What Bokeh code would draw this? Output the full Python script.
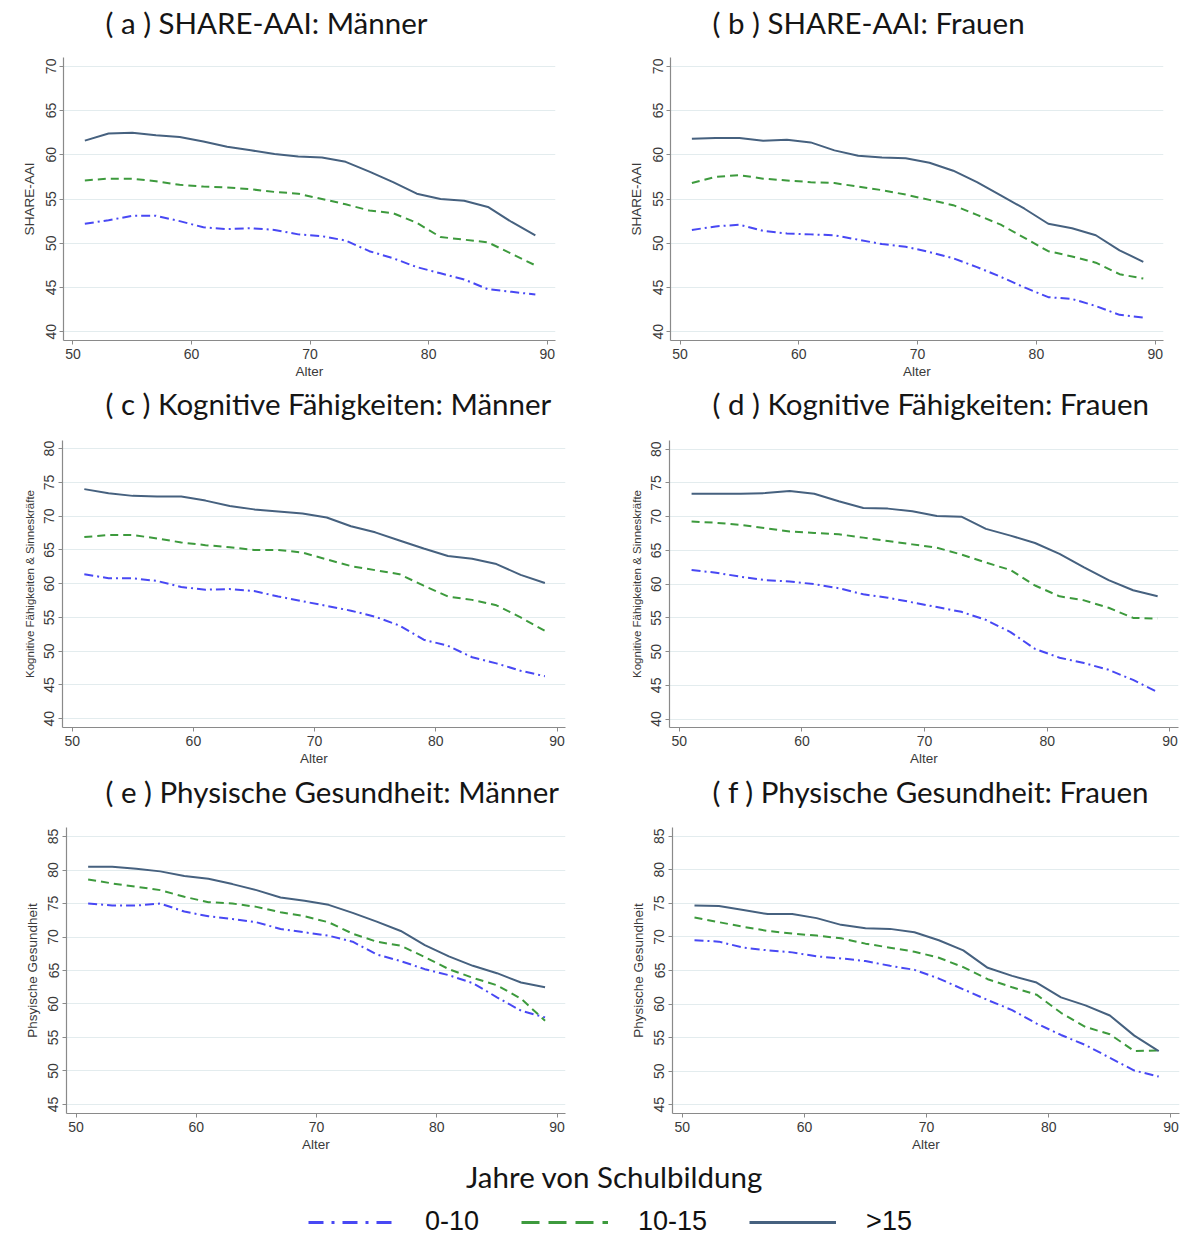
from bokeh.plotting import figure
from bokeh.layouts import column, row
from bokeh.models import Range1d, FixedTicker, Label, Legend, LegendItem
from bokeh.embed import file_html
from bokeh.resources import INLINE

# ---------------- data ----------------
ages = [51, 53, 55, 57, 59, 61, 63, 65, 67, 69, 71, 73, 75, 77, 79, 81, 83, 85, 87, 89]
series_names = ["0-10", "10-15", ">15"]
x_ticks = [50, 60, 70, 80, 90]

panel_titles = ["( a ) SHARE-AAI: Männer", "( b ) SHARE-AAI: Frauen",
                "( c ) Kognitive Fähigkeiten: Männer", "( d ) Kognitive Fähigkeiten: Frauen",
                "( e ) Physische Gesundheit: Männer", "( f ) Physische Gesundheit: Frauen"]
y_labels = ["SHARE-AAI", "SHARE-AAI",
            "Kognitive Fähigkeiten & Sinneskräfte", "Kognitive Fähigkeiten & Sinneskräfte",
            "Phsyische Gesundheit", "Physische Gesundheit"]
legend_title = "Jahre von Schulbildung"

# (a) SHARE-AAI: Maenner
a_lo = [52.2, 52.6, 53.1, 53.1, 52.5, 51.8, 51.6, 51.7, 51.5, 51.0, 50.8, 50.3, 49.1, 48.3, 47.3, 46.6, 45.9, 44.8, 44.5, 44.2]
a_mid = [57.1, 57.3, 57.3, 57.0, 56.6, 56.4, 56.3, 56.1, 55.8, 55.6, 55.0, 54.4, 53.7, 53.4, 52.3, 50.7, 50.4, 50.1, 48.8, 47.5]
a_hi = [61.6, 62.4, 62.5, 62.2, 62.0, 61.5, 60.9, 60.5, 60.1, 59.8, 59.7, 59.2, 58.1, 56.9, 55.6, 55.0, 54.8, 54.1, 52.4, 50.9]
# (b) SHARE-AAI: Frauen
b_lo = [51.5, 51.9, 52.1, 51.4, 51.1, 51.0, 50.9, 50.4, 49.9, 49.6, 49.0, 48.3, 47.3, 46.2, 45.0, 43.9, 43.7, 42.9, 41.9, 41.6]
b_mid = [56.8, 57.5, 57.7, 57.3, 57.1, 56.9, 56.8, 56.4, 56.0, 55.5, 54.9, 54.3, 53.2, 52.1, 50.6, 49.1, 48.5, 47.8, 46.5, 46.0]
b_hi = [61.8, 61.9, 61.9, 61.6, 61.7, 61.4, 60.5, 59.9, 59.7, 59.6, 59.1, 58.2, 56.9, 55.4, 53.9, 52.2, 51.7, 50.9, 49.2, 47.9]
# (c) Kognitive Faehigkeiten: Maenner
c_lo = [61.4, 60.8, 60.8, 60.4, 59.5, 59.1, 59.2, 58.9, 58.1, 57.4, 56.7, 56.0, 55.1, 53.8, 51.7, 50.8, 49.1, 48.2, 47.1, 46.3]
c_mid = [66.9, 67.2, 67.2, 66.7, 66.1, 65.7, 65.4, 65.0, 65.0, 64.6, 63.6, 62.6, 62.0, 61.4, 59.7, 58.1, 57.6, 56.8, 55.0, 53.0]
c_hi = [74.0, 73.4, 73.0, 72.9, 72.9, 72.3, 71.5, 71.0, 70.7, 70.4, 69.8, 68.5, 67.6, 66.4, 65.2, 64.1, 63.7, 62.9, 61.3, 60.1]
# (d) Kognitive Faehigkeiten: Frauen
d_lo = [62.1, 61.7, 61.1, 60.6, 60.4, 60.0, 59.4, 58.5, 58.0, 57.3, 56.6, 55.9, 54.7, 52.9, 50.4, 49.1, 48.3, 47.3, 45.8, 44.0]
d_mid = [69.3, 69.1, 68.8, 68.3, 67.8, 67.6, 67.4, 66.9, 66.4, 65.9, 65.4, 64.4, 63.2, 62.1, 59.8, 58.2, 57.6, 56.5, 55.0, 54.9]
d_hi = [73.4, 73.4, 73.4, 73.5, 73.8, 73.4, 72.3, 71.3, 71.2, 70.8, 70.1, 70.0, 68.2, 67.2, 66.1, 64.5, 62.5, 60.6, 59.1, 58.2]
# (e) Physische Gesundheit: Maenner
e_lo = [75.0, 74.7, 74.7, 75.0, 73.8, 73.1, 72.7, 72.2, 71.2, 70.7, 70.2, 69.3, 67.4, 66.4, 65.2, 64.3, 63.1, 61.0, 59.0, 58.0]
e_mid = [78.6, 78.0, 77.5, 77.0, 76.0, 75.2, 75.0, 74.5, 73.7, 73.1, 72.2, 70.5, 69.3, 68.7, 67.0, 65.2, 63.9, 62.8, 60.8, 57.5]
e_hi = [80.5, 80.5, 80.2, 79.8, 79.1, 78.7, 77.9, 77.0, 75.9, 75.4, 74.8, 73.6, 72.3, 70.9, 68.8, 67.1, 65.7, 64.6, 63.2, 62.5]
# (f) Physische Gesundheit: Frauen
f_lo = [69.5, 69.3, 68.4, 68.0, 67.7, 67.1, 66.8, 66.4, 65.7, 65.1, 63.8, 62.2, 60.6, 59.1, 57.1, 55.4, 53.9, 52.0, 50.1, 49.2]
f_mid = [72.9, 72.2, 71.5, 70.9, 70.5, 70.2, 69.8, 69.0, 68.4, 67.8, 66.9, 65.5, 63.7, 62.5, 61.4, 58.7, 56.6, 55.5, 53.0, 53.1]
f_hi = [74.7, 74.6, 74.0, 73.4, 73.4, 72.8, 71.8, 71.3, 71.2, 70.7, 69.5, 68.0, 65.4, 64.2, 63.2, 61.0, 59.8, 58.3, 55.3, 53.0]

yticks_ab = [40, 45, 50, 55, 60, 65, 70]
yticks_cd = [40, 45, 50, 55, 60, 65, 70, 75, 80]
yticks_ef = [45, 50, 55, 60, 65, 70, 75, 80, 85]

# ---------------- style ----------------
colors = ["#4848f4", "#3d9a3d", "#46617f"]
dashes = ["9 4 2 4", "8 5", "solid"]
TITLE_FONT = "Lato"
TITLE_SIZE = "29.5px"
AX_FONT = "Liberation Sans"
AX_COLOR = "#8a8a8a"
TXT_COLOR = "#3a3a3a"
W_LEFT, W_RIGHT = 600, 587


def make_panel(ylabel, ylabel_size, series, yticks, yr, w, h, mt, mr, mb, ml):
    p = figure(width=w, height=h, x_range=Range1d(49.2, 90.7), y_range=Range1d(*yr),
               output_backend="svg", toolbar_location=None,
               min_border_top=mt, min_border_right=mr, min_border_bottom=mb, min_border_left=ml,
               x_axis_label="Alter", y_axis_label=ylabel)
    p.outline_line_color = None
    p.background_fill_color = "white"
    p.border_fill_color = "white"
    p.xgrid.visible = False
    p.ygrid.grid_line_color = "#e3ecee"
    p.ygrid.grid_line_width = 1
    p.xaxis.ticker = FixedTicker(ticks=x_ticks)
    p.yaxis.ticker = FixedTicker(ticks=yticks)
    for ax in (p.xaxis[0], p.yaxis[0]):
        ax.axis_line_color = AX_COLOR
        ax.axis_line_width = 1.2
        ax.major_tick_line_color = AX_COLOR
        ax.major_tick_in = 0
        ax.major_tick_out = 4
        ax.minor_tick_line_color = None
        ax.major_label_text_font = AX_FONT
        ax.major_label_text_font_size = "14px"
        ax.major_label_text_color = TXT_COLOR
        ax.major_label_standoff = 4
        ax.axis_label_text_font = AX_FONT
        ax.axis_label_text_font_style = "normal"
        ax.axis_label_text_color = TXT_COLOR
        ax.axis_label_text_font_size = "13.5px"
    p.xaxis.axis_label_standoff = 2
    p.yaxis.axis_label_standoff = 6
    p.yaxis.axis_label_text_font_size = ylabel_size
    p.yaxis.major_label_orientation = "vertical"
    for vals, c, d in zip(series, colors, dashes):
        p.line(ages, vals, line_color=c, line_dash=d, line_width=2)
    return p


def make_title_row(height, texts, xs, cy):
    t = figure(width=W_LEFT + W_RIGHT, height=height, x_range=Range1d(0, 1), y_range=Range1d(0, 1),
               output_backend="svg", toolbar_location=None, x_axis_location=None, y_axis_location=None,
               min_border_top=0, min_border_bottom=0, min_border_left=0, min_border_right=0)
    t.outline_line_color = None
    t.grid.visible = False
    for txt, x in zip(texts, xs):
        t.add_layout(Label(x=x, y=height - cy, x_units="screen", y_units="screen", text=txt,
                           text_font=TITLE_FONT, text_font_size=TITLE_SIZE, text_color="#151515",
                           text_align="left", text_baseline="middle"))
    return t


t1 = make_title_row(50, panel_titles[0:2], [105, 712], 22)
pa = make_panel(y_labels[0], "13.5px", (a_lo, a_mid, a_hi), yticks_ab, (39, 71), W_LEFT, 334, 7, 45, 44, 63)
pb = make_panel(y_labels[1], "13.5px", (b_lo, b_mid, b_hi), yticks_ab, (39, 71), W_RIGHT, 334, 7, 24, 43, 70)

t2 = make_title_row(48, panel_titles[2:4], [105, 712], 19)
pc = make_panel(y_labels[2], "11.5px", (c_lo, c_mid, c_hi), yticks_cd, (38.7, 81.2), W_LEFT, 343, 8, 35, 48, 62)
pd_ = make_panel(y_labels[3], "11.5px", (d_lo, d_mid, d_hi), yticks_cd, (38.75, 81.3), W_RIGHT, 343, 8, 9, 44, 69)

t3 = make_title_row(43, panel_titles[4:6], [105, 712], 16)
pe = make_panel(y_labels[4], "13.5px", (e_lo, e_mid, e_hi), yticks_ef, (43.65, 86.35), W_LEFT, 342, 8, 35, 47, 66)
pf = make_panel(y_labels[5], "13.5px", (f_lo, f_mid, f_hi), yticks_ef, (43.7, 86.3), W_RIGHT, 342, 9, 8, 43, 72)

# ---------------- legend ----------------
LEG_H = 77
pl = figure(width=W_LEFT + W_RIGHT, height=LEG_H, x_range=Range1d(0, 1), y_range=Range1d(0, 1),
            output_backend="svg", toolbar_location=None, x_axis_location=None, y_axis_location=None,
            min_border_top=0, min_border_bottom=0, min_border_left=0, min_border_right=0)
pl.outline_line_color = None
pl.grid.visible = False
leg_dashes = ["15 8 3 8", "18 9", "solid"]
items = []
# the legend keys reuse panel (a)'s series; they lie outside this strip's ranges and stay hidden
for name, vals, c, d in zip(series_names, (a_lo, a_mid, a_hi), colors, leg_dashes):
    r = pl.line(ages, vals, line_color=c, line_dash=d, line_width=3)
    items.append(LegendItem(label=name, renderers=[r]))
leg = Legend(items=items, orientation="horizontal", location=(308, 0), glyph_width=87, glyph_height=24,
             label_standoff=30, spacing=42, padding=0, margin=0, border_line_color=None,
             background_fill_alpha=0, label_text_font=AX_FONT, label_text_font_size="27px",
             label_text_color="#111111")
pl.add_layout(leg)
pl.add_layout(Label(x=614, y=LEG_H - 16, x_units="screen", y_units="screen", text=legend_title,
                    text_font=TITLE_FONT, text_font_size=TITLE_SIZE, text_color="#151515",
                    text_align="center", text_baseline="middle"))

layout = column(t1, row(pa, pb), t2, row(pc, pd_), t3, row(pe, pf), pl)
open("out.html", "w").write(file_html(layout, INLINE))
